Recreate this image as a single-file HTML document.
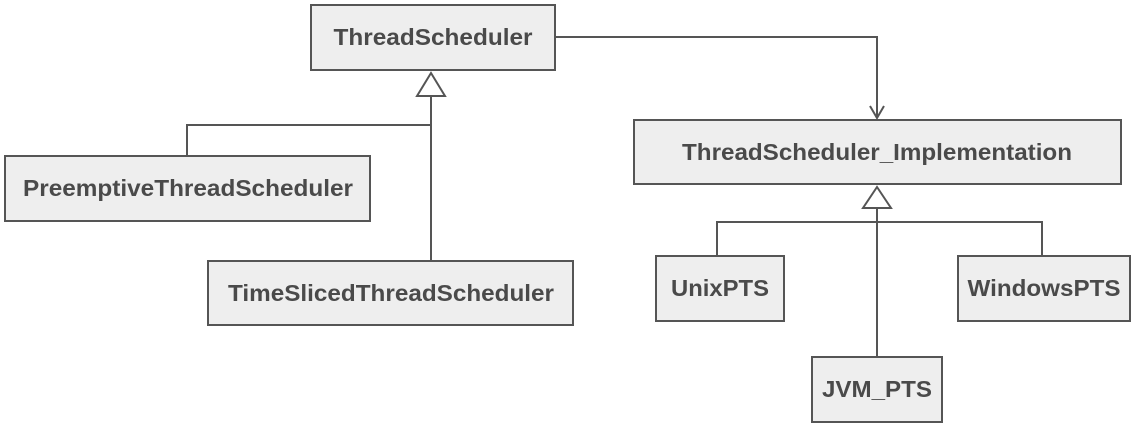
<!DOCTYPE html>
<html><head><meta charset="utf-8"><style>
body{margin:0;background:#fff;width:1132px;height:426px;overflow:hidden}
svg text{font-family:"Liberation Sans",Arial,sans-serif;font-weight:bold;font-size:23px;fill:#4a4a4a;text-anchor:middle;dominant-baseline:central}
rect{fill:#eee;stroke:#555;stroke-width:2}
.l{stroke:#555;stroke-width:2;fill:none}
</style></head><body>
<svg width="1132" height="426" xmlns="http://www.w3.org/2000/svg">
<polyline class="l" points="187,156 187,125 431,125"/>
<line class="l" x1="431" y1="96" x2="431" y2="261"/>
<polygon points="431,73 417,96 445,96" fill="#fff" stroke="#555" stroke-width="2"/>
<polyline class="l" points="555,37 877,37 877,118"/>
<polyline class="l" points="870,106 877,118 884,106"/>
<polyline class="l" points="717,256 717,222 1042,222 1042,256"/>
<line class="l" x1="877" y1="208" x2="877" y2="357"/>
<polygon points="877,187 863,208 891,208" fill="#fff" stroke="#555" stroke-width="2"/>
<rect x="311" y="5" width="244" height="65"/>
<text x="433" y="37" textLength="199" lengthAdjust="spacingAndGlyphs">ThreadScheduler</text>
<rect x="5" y="156" width="365" height="65"/>
<text x="188" y="188" textLength="330" lengthAdjust="spacingAndGlyphs">PreemptiveThreadScheduler</text>
<rect x="208" y="261" width="365" height="64"/>
<text x="391" y="293" textLength="326" lengthAdjust="spacingAndGlyphs">TimeSlicedThreadScheduler</text>
<rect x="634" y="120" width="487" height="64"/>
<text x="877" y="152" textLength="390" lengthAdjust="spacingAndGlyphs">ThreadScheduler_Implementation</text>
<rect x="656" y="256" width="128" height="65"/>
<text x="720" y="288" textLength="98" lengthAdjust="spacingAndGlyphs">UnixPTS</text>
<rect x="958" y="256" width="172" height="65"/>
<text x="1044" y="288" textLength="153" lengthAdjust="spacingAndGlyphs">WindowsPTS</text>
<rect x="812" y="357" width="130" height="65"/>
<text x="877" y="389" textLength="110" lengthAdjust="spacingAndGlyphs">JVM_PTS</text>
</svg>
</body></html>
